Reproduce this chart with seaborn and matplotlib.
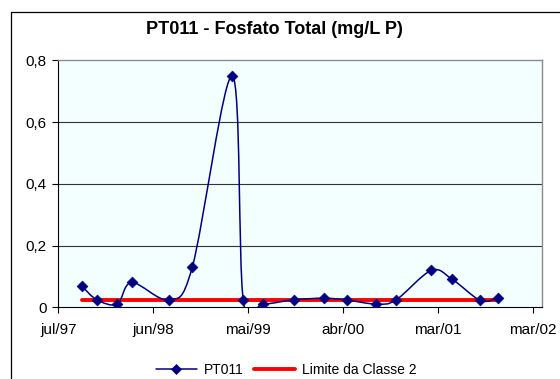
import matplotlib
matplotlib.use("Agg")
import matplotlib.pyplot as plt
import matplotlib.dates as mdates
from matplotlib.path import Path
from matplotlib.patches import PathPatch
from matplotlib.lines import Line2D
import numpy as np
import pandas as pd
import seaborn as sns

# PT011 - total phosphate samples (mg/L P)
sample_dates = ["1997-10-23", "1997-12-13", "1998-02-23", "1998-04-15",
                "1998-08-24", "1998-11-15", "1999-04-06", "1999-05-14",
                "1999-07-22", "1999-11-10", "2000-02-25", "2000-05-15",
                "2000-08-26", "2000-11-03", "2001-03-08", "2001-05-20",
                "2001-08-28", "2001-10-28"]
pt011 = [0.068, 0.025, 0.011, 0.081, 0.025, 0.13, 0.75, 0.025, 0.011,
         0.025, 0.03, 0.024, 0.011, 0.024, 0.12, 0.092, 0.023, 0.03]
limit_classe2 = 0.025

tick_dates = ["1997-07-30", "1998-06-30", "1999-05-31", "2000-04-30",
              "2001-03-31", "2002-03-01"]
tick_labels = ["jul/97", "jun/98", "mai/99", "abr/00", "mar/01", "mar/02"]
x_limits = ["1997-07-30", "2002-04-02"]
y_ticks = [0, 0.2, 0.4, 0.6, 0.8]
y_tick_labels = ["0", "0,2", "0,4", "0,6", "0,8"]

sns.set_style("white")
plt.rcParams['font.family'] = ['Liberation Sans', 'DejaVu Sans']
plt.rcParams['text.color'] = 'black'
plt.rcParams['xtick.color'] = 'black'
plt.rcParams['ytick.color'] = 'black'

NAVY = "#000080"
RED = "#FF0000"


def smooth_path(x, y):
    """Excel-like smoothed line (Catmull-Rom as cubic Bezier segments)"""
    pts = np.column_stack([x, y])
    n = len(pts)
    verts = [pts[0]]
    codes = [Path.MOVETO]
    for i in range(n - 1):
        p0 = pts[max(i - 1, 0)]
        p1 = pts[i]
        p2 = pts[i + 1]
        p3 = pts[min(i + 2, n - 1)]
        c1 = p1 + (p2 - p0) / 6.0
        c2 = p2 - (p3 - p1) / 6.0
        verts += [c1, c2, p2]
        codes += [Path.CURVE4] * 3
    return Path(verts, codes)


df = pd.DataFrame({'data': pd.to_datetime(sample_dates), 'PT011': pt011})
limit_df = pd.DataFrame({'data': df['data'].iloc[[0, -1]],
                         'limite': [limit_classe2, limit_classe2]})

fig = plt.figure(figsize=(5.6, 3.79), dpi=100)
fig.patch.set_facecolor('white')
fig.patch.set_edgecolor('white')
fig.patch.set_linewidth(0)
ax = fig.add_axes([0.1041, 0.1887, 0.8632, 0.6517])
ax.set_facecolor("#F3FEFE")

# limit line
sns.lineplot(data=limit_df, x='data', y='limite', color=RED, lw=2.8,
             ax=ax, zorder=3)

# smoothed series line
xnum = mdates.date2num(df['data'])
ax.add_patch(PathPatch(smooth_path(xnum, df['PT011'].values), fc='none',
                       ec=NAVY, lw=1.1, zorder=4))

# markers
sns.scatterplot(data=df, x='data', y='PT011', marker='D', s=30,
                color=NAVY, edgecolor=NAVY, linewidth=0.5, ax=ax, zorder=5)

ax.set_xlim(pd.to_datetime(x_limits[0]), pd.to_datetime(x_limits[1]))
ax.set_ylim(0, 0.8)
ax.set_xticks(pd.to_datetime(tick_dates))
ax.set_xticklabels(tick_labels)
ax.set_yticks(y_ticks)
ax.set_yticklabels(y_tick_labels)
ax.set_xlabel('')
ax.set_ylabel('')

for yv in y_ticks[1:-1]:
    ax.axhline(yv, color='#333333', lw=0.8, zorder=1)

for side in ['top', 'right']:
    ax.spines[side].set_color('#8C8C8C')
    ax.spines[side].set_linewidth(1.0)
for side in ['left', 'bottom']:
    ax.spines[side].set_color('black')
    ax.spines[side].set_linewidth(0.8)

ax.tick_params(axis='both', direction='out', length=4.5, width=0.8,
               color='black', labelsize=11, left=True, bottom=True)
ax.tick_params(axis='x', pad=7)
ax.tick_params(axis='y', pad=4)

fig.text(274 / 560, 1 - 30 / 379, 'PT011 - Fosfato Total (mg/L P)',
         fontsize=13, fontweight='bold', ha='center', va='center')

handles = [Line2D([], [], color=NAVY, lw=1.1, marker='D', markersize=5.5,
                  markeredgewidth=0.5),
           Line2D([], [], color=RED, lw=2.8)]
fig.legend(handles, ['PT011', 'Limite da Classe 2'], loc='center',
           bbox_to_anchor=(0.511, 0.024), ncol=2, frameon=False,
           fontsize=10, handlelength=3.0, handletextpad=0.5,
           columnspacing=0.7)

# chart area frame (top and left edges; the rest runs off the image)
fx0, fy0 = 10.5 / 560, 1 - 11.5 / 379
fig.add_artist(Line2D([fx0, 1.2], [fy0, fy0], transform=fig.transFigure,
                      color='black', lw=0.9))
fig.add_artist(Line2D([fx0, fx0], [-0.2, fy0], transform=fig.transFigure,
                      color='black', lw=0.9))

plt.savefig('out.png', dpi=100)
plt.close()
